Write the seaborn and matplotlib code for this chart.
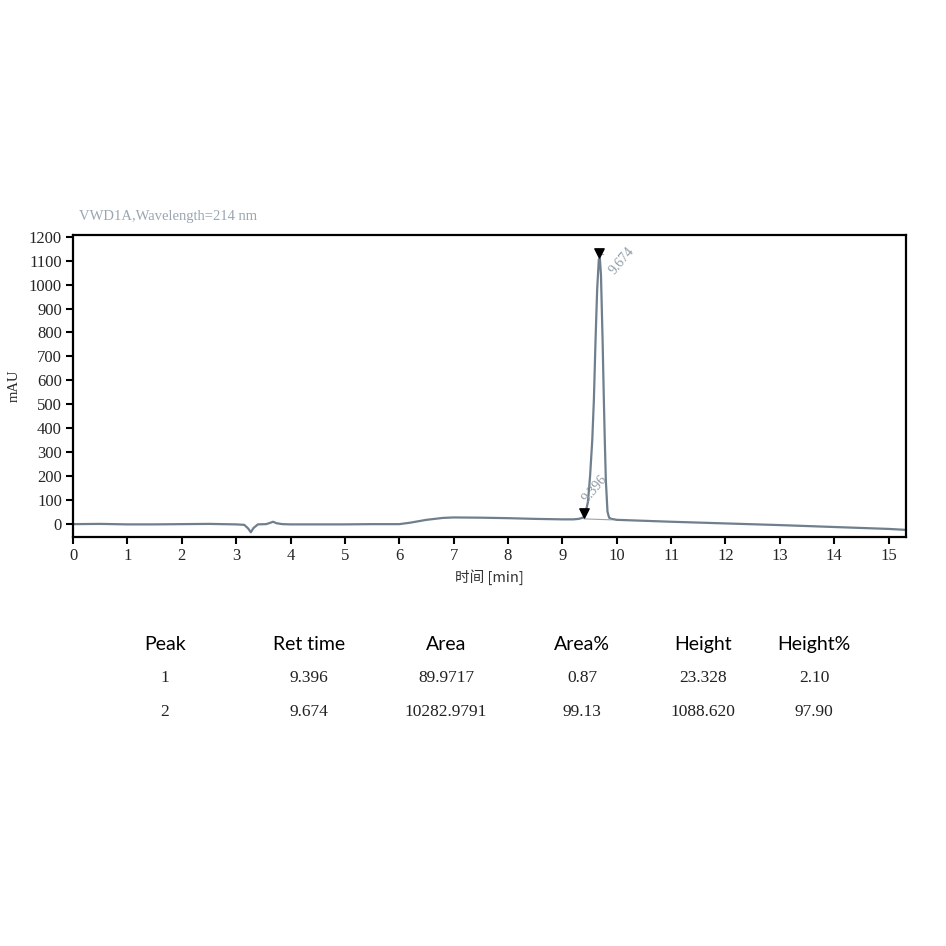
import numpy as np
import pandas as pd
import seaborn as sns
import matplotlib.pyplot as plt

# chromatogram trace (min, mAU)
time_min = [0.0, 0.5, 1.0, 1.5, 2.0, 2.5, 3.0, 3.15, 3.22, 3.27, 3.32, 3.4, 3.55,
            3.62, 3.68, 3.74, 3.85, 4.0, 4.5, 5.0, 5.5, 6.0, 6.2, 6.5, 6.8, 7.0,
            7.5, 8.0, 8.5, 9.0, 9.2, 9.3, 9.38, 9.42, 9.47, 9.51, 9.55, 9.58, 9.61,
            9.64, 9.67, 9.69, 9.71, 9.74, 9.76, 9.78, 9.80, 9.83, 9.86, 9.9, 10.0,
            10.5, 11.0, 12.0, 13.0, 14.0, 15.0, 15.32]
signal_mau = [-2, -1, -3, -3, -2, -1, -3, -5, -20, -36, -18, -3, -2,
              3, 8, 2, -2, -3, -3, -3, -2, -2, 4, 16, 24, 26,
              25, 23, 20, 18, 18, 20, 25, 40, 90, 200, 350, 520, 767,
              980, 1105, 1110, 1040, 767, 550, 350, 180, 50, 25, 20, 16,
              12, 8, 1, -6, -14, -22, -26]

peak_no = [1, 2]
peak_rt = [9.396, 9.674]
peak_apex = [22, 1110]
peak_area = ["89.9717", "10282.9791"]
peak_area_pct = ["0.87", "99.13"]
peak_height = ["23.328", "1088.620"]
peak_height_pct = ["2.10", "97.90"]

headers = ["Peak", "Ret time", "Area", "Area%", "Height", "Height%"]
x_ticks = list(range(0, 16))
y_ticks = list(range(0, 1201, 100))

sns.set_theme(style="white")
plt.rcParams['font.family'] = ['Liberation Serif', 'DejaVu Serif']

df = pd.DataFrame({"t": time_min, "mAU": signal_mau})

fig = plt.figure(figsize=(9.46, 9.46), dpi=100)
ax = fig.add_axes([0.0772, 0.4323, 0.8805, 0.3193])

line_col = "#6f7f8d"
sns.lineplot(data=df, x="t", y="mAU", ax=ax, color=line_col, lw=1.6, sort=False)

# integration baseline under the main peak
ax.plot([peak_rt[0], 9.9], [20, 16], color="#9aa4ad", lw=0.8)

ax.set_xlim(0, 15.32)
ax.set_ylim(-56, 1208)
ax.set_xticks(x_ticks)
ax.set_yticks(y_ticks)
ax.tick_params(direction="out", length=5, width=1.5, color="black",
               labelsize=12, left=True, bottom=True, pad=3)
for s in ax.spines.values():
    s.set_linewidth(1.6)
    s.set_color("black")

ax.set_xlabel("时间 [min]", family=['Noto Sans CJK SC', 'DejaVu Sans'],
              fontsize=10.5, color="#333333", labelpad=4)
ax.set_ylabel("mAU", fontsize=10.5, labelpad=6)

# peak markers and labels
label_offsets = [(4, 6), (13, -17)]
for rt, apex, off in zip(peak_rt, peak_apex, label_offsets):
    ax.scatter([rt], [apex + 22], marker="v", s=45, color="black", zorder=5)
    ax.annotate(f"{rt:.3f}", xy=(rt, apex + 22), xytext=off,
                textcoords="offset points", rotation=50, rotation_mode="anchor",
                ha="left", va="bottom", fontsize=10, color="#8e9aa5",
                arrowprops=dict(arrowstyle="-", color="#8e9aa5", lw=0.6,
                                shrinkA=0, shrinkB=0))

fig.text(0.084, 0.767, "VWD1A,Wavelength=214 nm", fontsize=10.5, color="#9aa6b2")

# peak table
col_x = [165, 309, 446, 582, 703, 814]
rows = [[str(p) for p in peak_no], [f"{r:.3f}" for r in peak_rt], peak_area,
        peak_area_pct, peak_height, peak_height_pct]
for cx, h, vals in zip(col_x, headers, rows):
    fig.text(cx / 946, 1 - 644 / 946, h, ha="center", va="center",
             fontsize=14, family=['Lato', 'DejaVu Sans'], color="black")
    for i, v in enumerate(vals):
        fig.text(cx / 946, 1 - (678 + 34 * i) / 946, v, ha="center",
                 va="center", fontsize=12.5, color="#222222")

fig.savefig("out.png", dpi=100)
